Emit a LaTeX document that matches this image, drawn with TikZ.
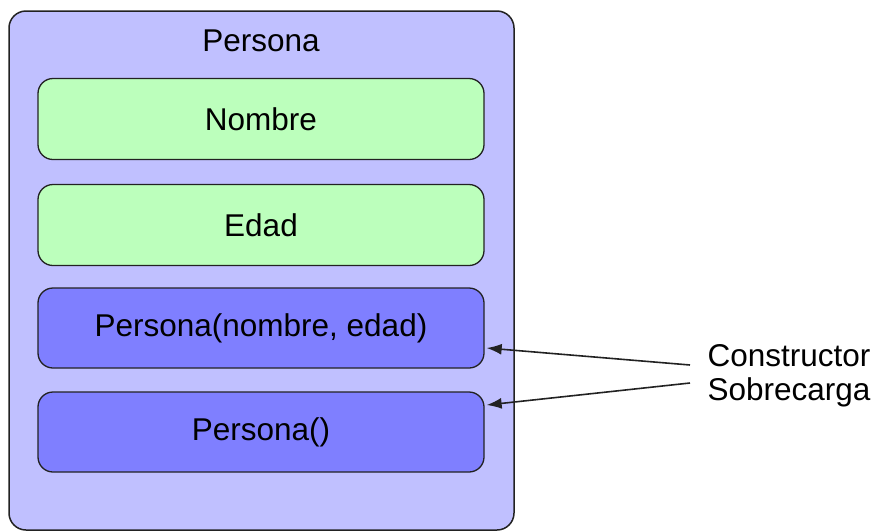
\documentclass[tikz,border=0pt]{standalone}
\usepackage{fontspec}
\setmainfont{Liberation Sans}
\usetikzlibrary{arrows.meta,calc}
\definecolor{outerfill}{HTML}{C0C0FF}
\definecolor{greenfill}{HTML}{BCFFBC}
\definecolor{bluefill}{HTML}{7F7FFF}
\definecolor{edge}{HTML}{222222}
\tikzset{
  outerbox/.style={draw=edge, line width=1.5pt, fill=outerfill, rounded corners=17pt,
    minimum width=505pt, minimum height=519pt, inner sep=0pt},
  fieldbox/.style={draw=edge, line width=1.3pt, fill=greenfill, rounded corners=15pt,
    minimum width=446pt, minimum height=81pt, inner sep=0pt},
  methodbox/.style={draw=edge, line width=1.3pt, fill=bluefill, rounded corners=15pt,
    minimum width=446pt, minimum height=80pt, inner sep=0pt},
  txt/.style={font=\fontsize{31.5}{34}\selectfont, text=black},
  pointer/.style={draw=edge, line width=1.6pt, -{Latex[length=15pt,width=11pt]}}
}
\begin{document}
\begin{tikzpicture}[x=1pt,y=-1pt]
\useasboundingbox (0,0) rectangle (880,531);
\node[outerbox] (outer) at (261.5,270.5) {};
\node[txt] (title) at (261,41) {Persona};
\node[fieldbox, txt] (nombre) at (261,119) {Nombre};
\node[fieldbox, txt] (edad) at (261,225) {Edad};
\node[methodbox, txt] (full) at (261,328) {Persona(nombre, edad)};
\node[methodbox, txt] (empty) at (261,432) {Persona()};
\node[txt, align=center, inner sep=0pt] (lbl) at (789,376) {Constructor\\Sobrecarga};
\coordinate (t1) at (690,365);
\coordinate (t2) at (690,383);
\draw[pointer] (t1) -- ($(full.east)+(2,20)$);
\draw[pointer] (t2) -- ($(empty.east)+(2,-27)$);
\end{tikzpicture}
\end{document}
